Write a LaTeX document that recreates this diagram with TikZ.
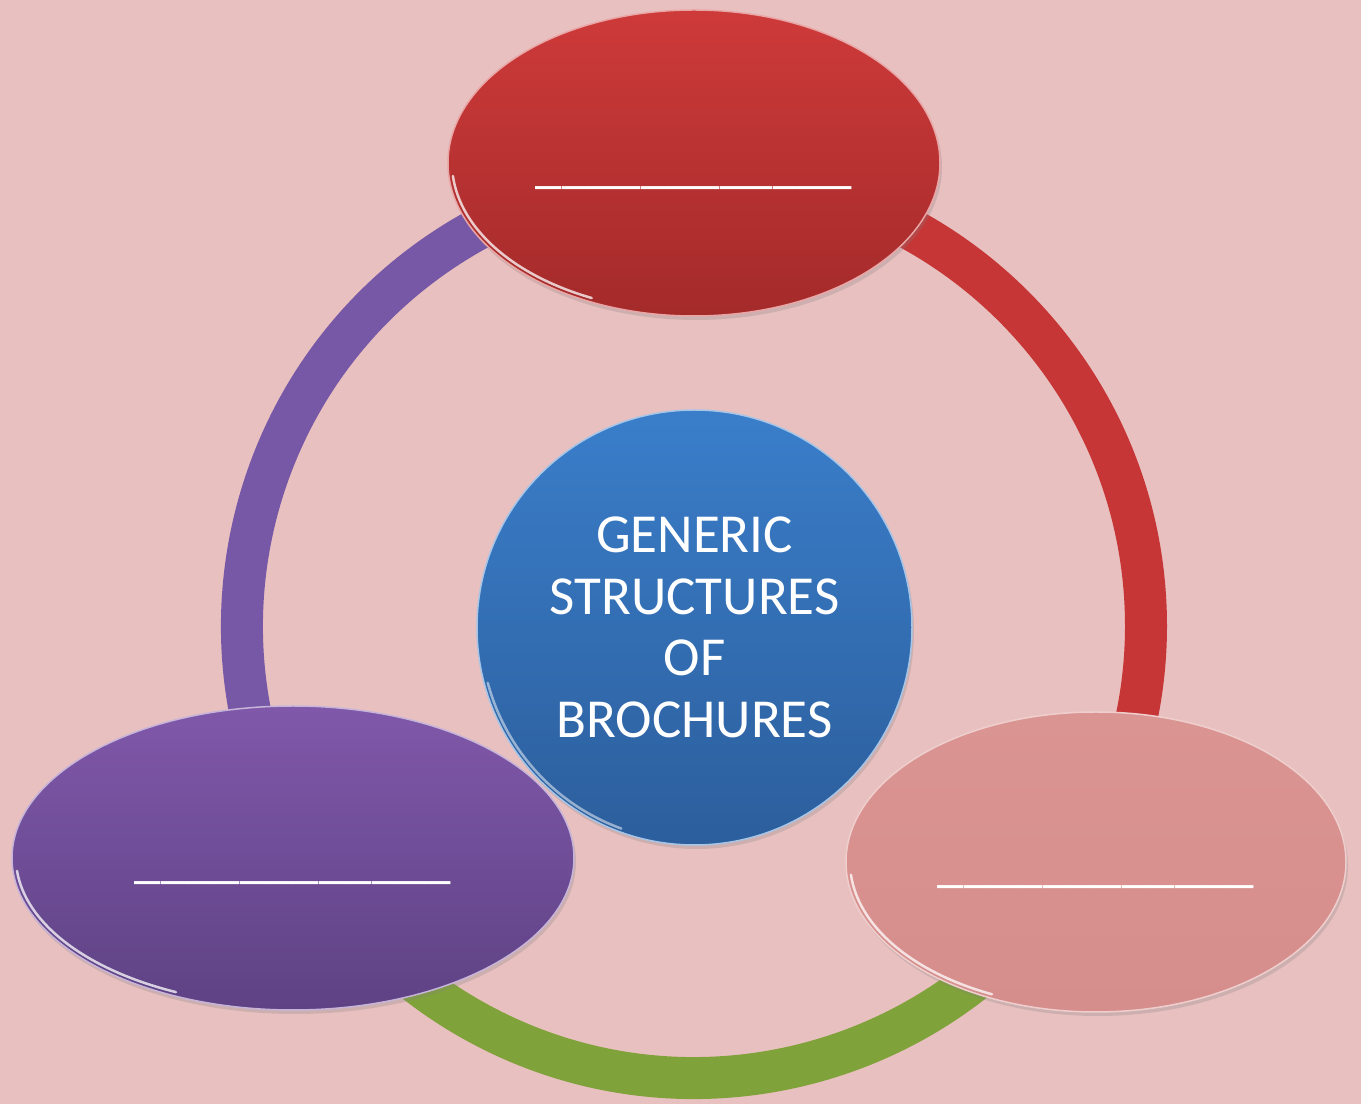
\documentclass[tikz,border=0pt]{standalone}
\usepackage{fontspec}
\setmainfont{Carlito}
\usetikzlibrary{shapes.geometric, shadows}
\definecolor{paper}{RGB}{233,192,192}
\definecolor{redtop}{RGB}{206,58,58}
\definecolor{redbot}{RGB}{164,42,42}
\definecolor{violettop}{RGB}{128,88,170}
\definecolor{violetbot}{RGB}{94,66,132}
\definecolor{rosetop}{RGB}{218,148,146}
\definecolor{rosebot}{RGB}{214,142,140}
\definecolor{bluetop}{RGB}{58,126,202}
\definecolor{bluebot}{RGB}{44,94,156}
\definecolor{ringred}{RGB}{198,54,54}
\definecolor{ringviolet}{RGB}{118,88,166}
\definecolor{ringgreen}{RGB}{128,162,58}
\tikzset{
    bubble/.style 2 args={ellipse, inner sep=0pt, top color=#1, bottom color=#2,
        draw=#1!45!white, line width=1.5pt,
        drop shadow={shadow xshift=2pt, shadow yshift=-4pt, opacity=0.25}},
    ring/.style={line width=42pt},
    shine/.style={white, line width=2.5pt, opacity=0.75, line cap=round},
    blank/.style={text=white, font=\fontsize{53}{60}\selectfont, text height=40pt, text depth=0pt}
}
\newcommand{\fillin}{\_\_\_\_\_\_\_\_\_\_\_\_}

\begin{document}
\begin{tikzpicture}[x=1pt, y=1pt]
    \useasboundingbox (0,0) rectangle (1361,1104);
    % Background
    \fill[paper] (0,0) rectangle (1361,1104);
    % Ring behind the nodes
    \coordinate (hub) at (694,478);
    \draw[ring, ringred] (hub) ++(90:452pt) arc[start angle=90, end angle=-30, radius=452pt];
    \draw[ring, ringgreen] (hub) ++(-30:452pt) arc[start angle=-30, end angle=-150, radius=452pt];
    \draw[ring, ringviolet] (hub) ++(210:452pt) arc[start angle=210, end angle=90, radius=452pt];
    % Centre
    \node[bubble={bluetop}{bluebot}, circle, minimum size=435pt, text=white, align=center,
        font=\fontsize{55}{61.7}\selectfont] (hubnode) at (694.5,476.5)
        {GENERIC\\STRUCTURES\\OF\\BROCHURES};
    \draw[shine, opacity=0.5] (hubnode.center) ++(195:214pt) arc[start angle=195, end angle=250, radius=214pt];
    % Outer nodes
    \node[bubble={redtop}{redbot}, minimum width=492pt, minimum height=306pt] (topnode) at (694,941) {};
    \node[bubble={violettop}{violetbot}, minimum width=562pt, minimum height=304pt] (leftnode) at (293,246) {};
    \node[bubble={rosetop}{rosebot}, minimum width=500pt, minimum height=300pt] (rightnode) at (1096,242) {};
    % Rim highlights
    \draw[shine] (topnode.center) ++(185:242pt and 149pt) arc[start angle=185, end angle=245, x radius=242pt, y radius=149pt];
    \draw[shine] (leftnode.center) ++(185:277pt and 148pt) arc[start angle=185, end angle=245, x radius=277pt, y radius=148pt];
    \draw[shine] (rightnode.center) ++(185:246pt and 146pt) arc[start angle=185, end angle=245, x radius=246pt, y radius=146pt];
    % Blanks
    \node[blank] at (topnode) {\fillin};
    \node[blank] at (leftnode) {\fillin};
    \node[blank] at (rightnode) {\fillin};
\end{tikzpicture}
\end{document}
